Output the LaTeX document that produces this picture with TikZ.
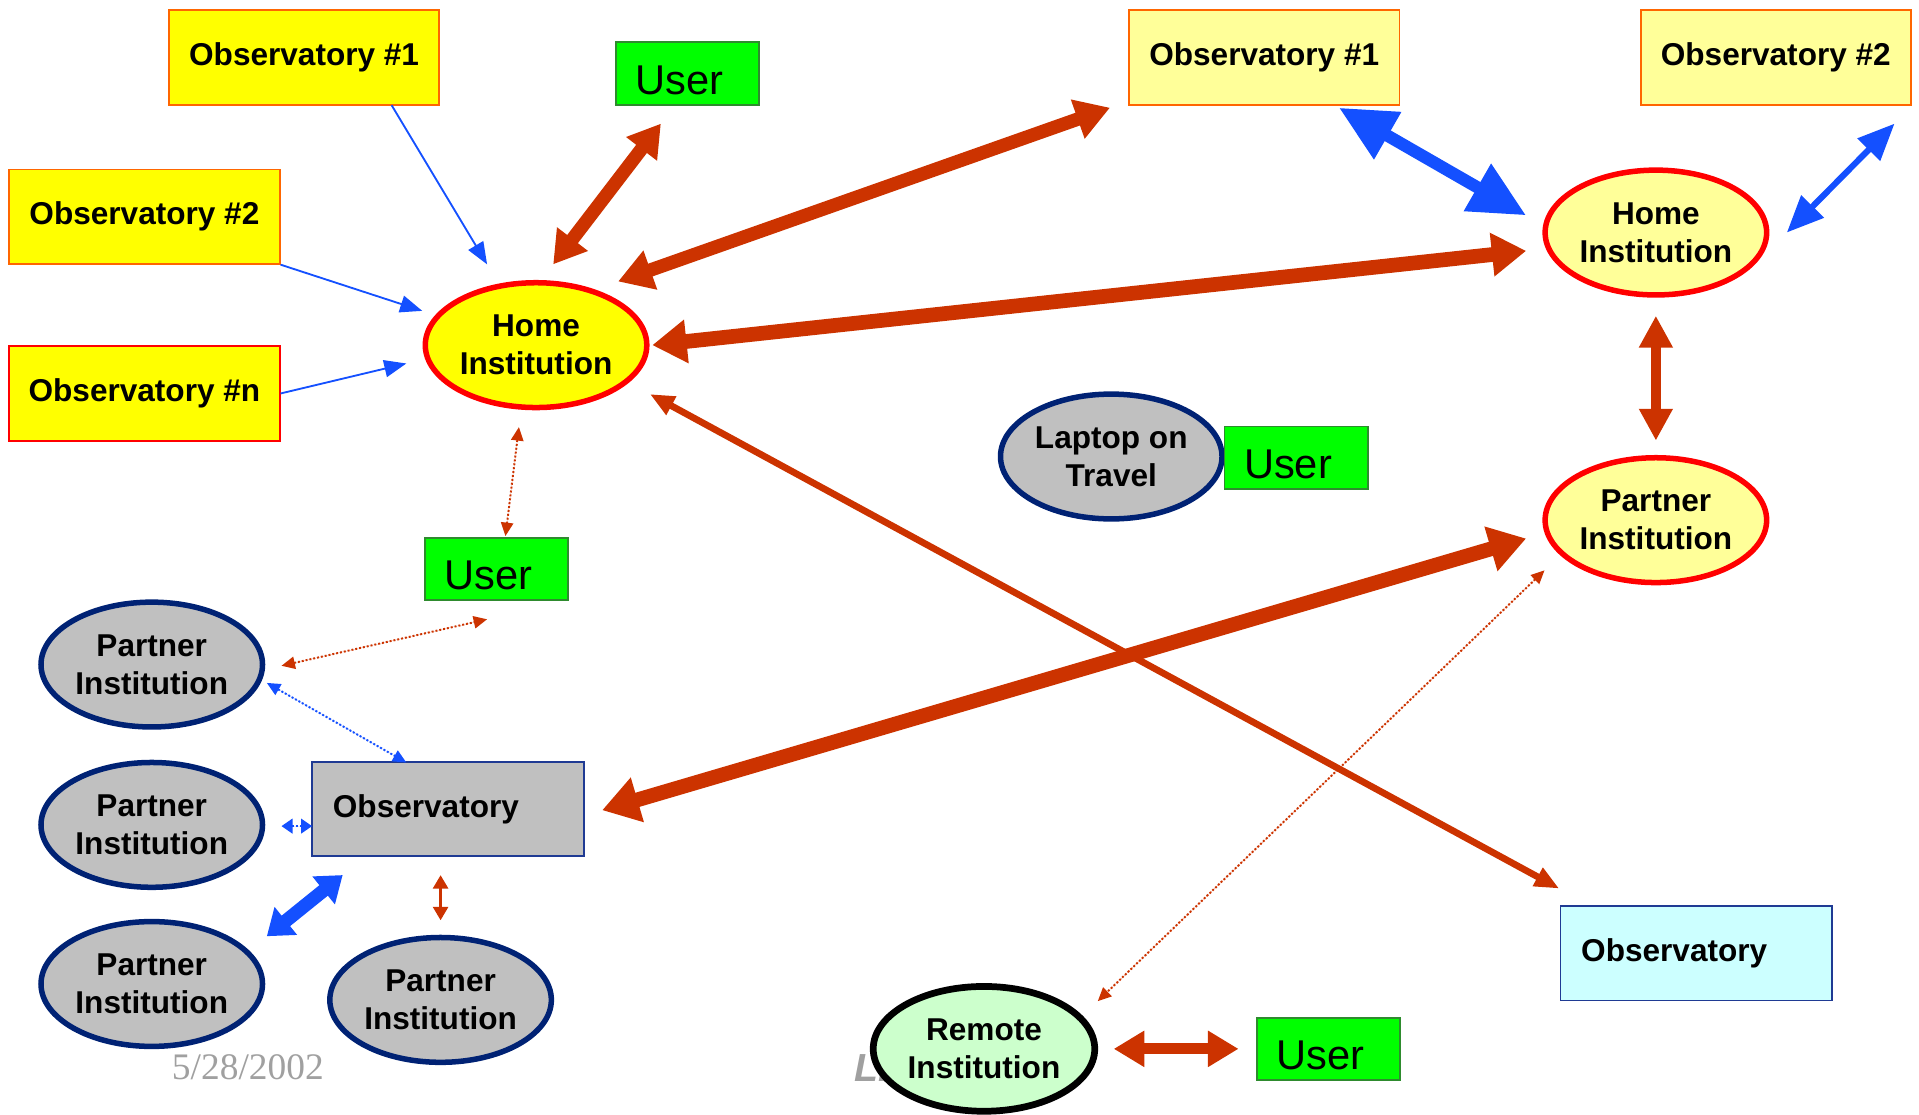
\documentclass[tikz,border=0pt]{standalone}
\usepackage{fontspec}
\setmainfont{Liberation Sans}
\newfontfamily\datefont{Liberation Serif}
\usetikzlibrary{shapes.geometric,arrows.meta,calc}

\definecolor{yel}{HTML}{FFFF00}
\definecolor{paleyel}{HTML}{FFFF99}
\definecolor{boxorange}{HTML}{FF6600}
\definecolor{ringred}{HTML}{FF0000}
\definecolor{usergreen}{HTML}{00FF00}
\definecolor{userborder}{HTML}{2E8B2E}
\definecolor{linkred}{HTML}{CC3300}
\definecolor{linkblue}{HTML}{1450FF}
\definecolor{navy}{HTML}{002274}
\definecolor{boxnavy}{HTML}{1F3A93}
\definecolor{silver}{HTML}{C0C0C0}
\definecolor{paleCyan}{HTML}{CCFFFF}
\definecolor{paleGreen}{HTML}{CCFFCC}
\definecolor{footgray}{HTML}{A0A0A0}

\tikzset{
  lbl/.style={font=\fontsize{25.8}{31}\selectfont\bfseries, align=center},
  obsbox/.style={lbl, rectangle, draw=boxorange, line width=1.5pt,
    minimum width=221pt, minimum height=77pt, inner sep=0pt},
  plainobs/.style={lbl, rectangle, draw=boxnavy, line width=1.5pt,
    text width=188pt, inner xsep=17pt, inner ysep=0pt, align=left,
    minimum height=77pt},
  userbox/.style={rectangle, draw=userborder, fill=usergreen, line width=1.5pt,
    font=\fontsize{34}{40}\selectfont, text width=85pt, inner xsep=16pt,
    inner ysep=0pt, align=left, text height=40pt, text depth=6pt,
    minimum height=51pt},
  inst/.style={lbl, ellipse, line width=4.5pt, minimum width=181pt,
    minimum height=102pt, inner sep=0pt},
  homeinst/.style={inst, draw=ringred},
  partnerinst/.style={inst, draw=navy, fill=silver},
  redlink/.style={draw=linkred, fill=linkred},
  bluelink/.style={draw=linkblue, fill=linkblue},
  dotlink/.style={line width=1.6pt, dash pattern=on 1.6pt off 1.6pt,
    {Triangle[length=11pt,width=10pt]}-{Triangle[length=11pt,width=10pt]}},
}

\begin{document}
\begin{tikzpicture}[x=1pt,y=-1pt]
\useasboundingbox (0,0) rectangle (1568,911);

% ---- footer text (partly hidden behind the remote site) ----
\node[font=\datefont\fontsize{30.6}{34}\selectfont, text=footgray, anchor=base west]
  (date) at (137,882) {5/28/2002};
\node[font=\fontsize{32}{36}\selectfont\bfseries\itshape, text=footgray, anchor=base west]
  (foot) at (695,884) {LI};

% ---- left cluster: home institution and its observatories ----
\node[obsbox, fill=yel] (obsA) at (248.5,47) {Observatory \#1};
\node[obsbox, fill=yel] (obsB) at (118,177) {Observatory \#2};
\node[obsbox, fill=yel, draw=ringred] (obsN) at (118,321.5) {Observatory \#n};
\node[homeinst, fill=yel] (homeL) at (438,282) {Home\\Institution};
\node[userbox] (userA) at (562,60) {User};
\node[userbox] (userM) at (405.5,465) {User};

% ---- right cluster ----
\node[obsbox, fill=paleyel] (obsC) at (1033,47) {Observatory \#1};
\node[obsbox, fill=paleyel] (obsD) at (1451,47) {Observatory \#2};
\node[homeinst, fill=paleyel] (homeR) at (1353,190) {Home\\Institution};
\node[homeinst, fill=paleyel] (partR) at (1353,425) {Partner\\Institution};

% ---- travelling user ----
\node[partnerinst] (laptop) at (908,373) {Laptop on\\Travel};
\node[userbox] (userL) at (1059,374) {User};

% ---- observatory with its partners ----
\node[partnerinst] (p1) at (124,543) {Partner\\Institution};
\node[partnerinst] (p2) at (124,674) {Partner\\Institution};
\node[partnerinst] (p3) at (124,804) {Partner\\Institution};
\node[partnerinst] (p4) at (360,817) {Partner\\Institution};
\node[plainobs, fill=silver] (obsG) at (366,661) {Observatory};
\node[plainobs, fill=paleCyan] (obsY) at (1386,779) {Observatory};

% ---- remote institution ----
\node[inst, draw=black, line width=5.5pt, fill=paleGreen] (remote) at (804,857) {Remote\\Institution};
\node[userbox] (userR) at (1085.5,857) {User};

% ---- thin blue feeds into the home institution ----
\begin{scope}[bluelink, line width=1.5pt, -{Triangle[length=18pt,width=14pt]}]
  \draw ($(obsA)+(71.5,39)$) -- ($(homeL)+(-40,-66)$);
  \draw (obsB.south east) -- ($(homeL)+(-93,-28)$);
  \draw (obsN.east) -- ($(homeL)+(-106,15)$);
\end{scope}

% ---- heavy red links ----
\draw[redlink, line width=11pt, {Triangle[length=26pt,width=30pt]}-{Triangle[length=26pt,width=30pt]}]
  ($(userA)+(-22,41)$) -- ($(homeL)+(14,-66)$);
\draw[redlink, line width=11pt, {Triangle[length=28pt,width=32pt]}-{Triangle[length=28pt,width=32pt]}]
  ($(homeL)+(67,-52)$) -- ($(obsC)+(-126,41)$);
\draw[redlink, line width=12pt, {Triangle[length=28pt,width=34pt]}-{Triangle[length=28pt,width=34pt]}]
  ($(homeL)+(95,0)$) -- ($(homeR)+(-106,15)$);
\draw[redlink, line width=5.5pt, {Triangle[length=20pt,width=16pt]}-{Triangle[length=20pt,width=16pt]}]
  ($(homeL)+(93,40)$) -- ($(obsY)+(-112,-53)$);
\draw[redlink, line width=12pt, {Triangle[length=30pt,width=36pt]}-{Triangle[length=30pt,width=36pt]}]
  ($(partR)+(-106,15)$) -- ($(obsG)+(126,1)$);
\draw[redlink, line width=8pt, {Triangle[length=26pt,width=26pt]}-{Triangle[length=26pt,width=26pt]}]
  ($(homeR)+(0,68)$) -- ($(partR)+(0,-65)$);
\draw[redlink, line width=9pt, {Triangle[length=25pt,width=28pt]}-{Triangle[length=25pt,width=28pt]}]
  ($(remote)+(106,0)$) -- ($(userR)+(-73.5,0)$);
\draw[redlink, line width=3pt, {Triangle[length=11pt,width=12pt]}-{Triangle[length=11pt,width=12pt]}]
  ($(p4)+(0,-65)$) -- ($(obsG)+(-6,54)$);

% ---- heavy blue links ----
\draw[bluelink, line width=10pt, {Triangle[length=46pt,width=42pt]}-{Triangle[length=46pt,width=42pt]}]
  ($(obsC)+(61,41)$) -- ($(homeR)+(-106,-14)$);
\draw[bluelink, line width=5pt, {Triangle[length=30pt,width=25pt]}-{Triangle[length=30pt,width=25pt]}]
  ($(obsD)+(97,54)$) -- ($(homeR)+(107,0)$);
\draw[bluelink, line width=11pt, {Triangle[length=20pt,width=28pt]}-{Triangle[length=20pt,width=28pt]}]
  ($(p3)+(94,-39)$) -- ($(obsG)+(-86,54)$);

% ---- dotted links ----
\draw[redlink, dotlink] ($(homeL)+(-14,67)$) -- ($(userM)+(7.5,-27)$);
\draw[redlink, dotlink] ($(partR)+(-91,41)$) -- ($(remote)+(93,-39)$);
\draw[redlink, dotlink] ($(p1)+(106,1)$) -- ($(userM)+(-7.5,41)$);
\draw[bluelink, dotlink] ($(p1)+(94,15)$) -- ($(obsG)+(-34,-38)$);
\draw[bluelink, line width=1.6pt, dash pattern=on 1.6pt off 1.6pt,
  {Triangle[length=9pt,width=12pt]}-{Triangle[length=9pt,width=12pt]}]
  ($(p2)+(106,1)$) -- ($(obsG)+(-111,14)$);
\end{tikzpicture}
\end{document}
